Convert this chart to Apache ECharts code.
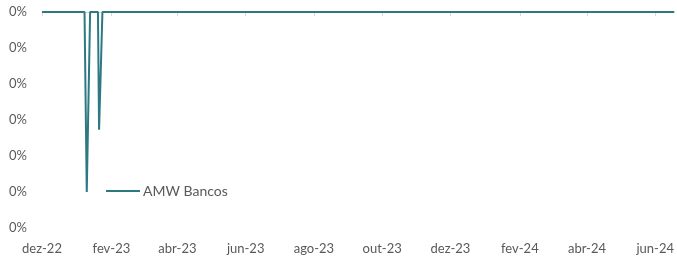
<!DOCTYPE html>
<html>
<head>
<meta charset="utf-8">
<script src="https://cdn.jsdelivr.net/npm/echarts@6/dist/echarts.min.js"></script>
<style>html,body{margin:0;padding:0;background:#fff}#c{width:677px;height:261px}</style>
</head>
<body>
<div id="c"></div>
<script>
// Data (change points of the daily series; flat zero elsewhere)
var seriesName = 'AMW Bancos';
var pointDates = ['2022-12-01','2023-01-08','2023-01-10','2023-01-13','2023-01-20','2023-01-21','2023-01-24','2024-06-18'];
var pointValues = [0, 0, -0.00005, 0, 0, -0.0000327, 0, 0];
var tickDates = ['2022-12-01','2023-02-01','2023-04-01','2023-06-01','2023-08-01','2023-10-01','2023-12-01','2024-02-01','2024-04-01','2024-06-01'];
var tickLabels = ['dez-22','fev-23','abr-23','jun-23','ago-23','out-23','dez-23','fev-24','abr-24','jun-24'];
var axisStart = '2022-12-01';
var axisEnd = '2024-06-18';

function ts(s){var p=s.split('-');return Date.UTC(+p[0],+p[1]-1,+p[2]);}
var tickTs = tickDates.map(ts);
var data = pointDates.map(function(d,i){return [ts(d), pointValues[i]];});

var font = 'Lato, "Open Sans", sans-serif';
var lineColor = '#2e7882';
var chart = echarts.init(document.getElementById('c'));
chart.setOption({
  animation:false,
  grid:{left:42,right:2,top:12,bottom:33,containLabel:false},
  legend:{
    data:[{name:seriesName,icon:'rect'}],left:106,top:184,padding:0,itemWidth:34,itemHeight:2,
    itemStyle:{color:lineColor},
    textStyle:{fontFamily:font,fontSize:14,color:'#595959',padding:[0,0,0,-2]}
  },
  xAxis:[{
    type:'value',min:ts(axisStart),max:ts(axisEnd),position:'bottom',
    axisLine:{show:false,onZero:false},axisTick:{show:false},splitLine:{show:false},
    axisLabel:{customValues:tickTs,margin:14,fontFamily:font,fontSize:13,color:'#595959',
      formatter:function(v){var i=tickTs.indexOf(v);return i>=0?tickLabels[i]:'';}}
  },{
    type:'value',min:ts(axisStart),max:ts(axisEnd),position:'top',
    axisLine:{show:true,onZero:false,lineStyle:{color:'#d9d9d9',width:1}},
    axisTick:{show:true,inside:true,length:4,customValues:tickTs,lineStyle:{color:'#d9d9d9'}},
    axisLabel:{show:false},splitLine:{show:false}
  }],
  yAxis:{
    type:'value',min:-0.00006,max:0,interval:0.00001,
    axisLine:{show:false},axisTick:{show:false},splitLine:{show:false},
    axisLabel:{margin:15,fontFamily:font,fontSize:13,color:'#595959',
      formatter:function(v){return Math.round(v*100)+'%';}}
  },
  series:[{
    name:seriesName,type:'line',xAxisIndex:0,data:data,symbol:'none',
    lineStyle:{color:lineColor,width:2},itemStyle:{color:lineColor}
  }]
});
</script>
</body>
</html>
